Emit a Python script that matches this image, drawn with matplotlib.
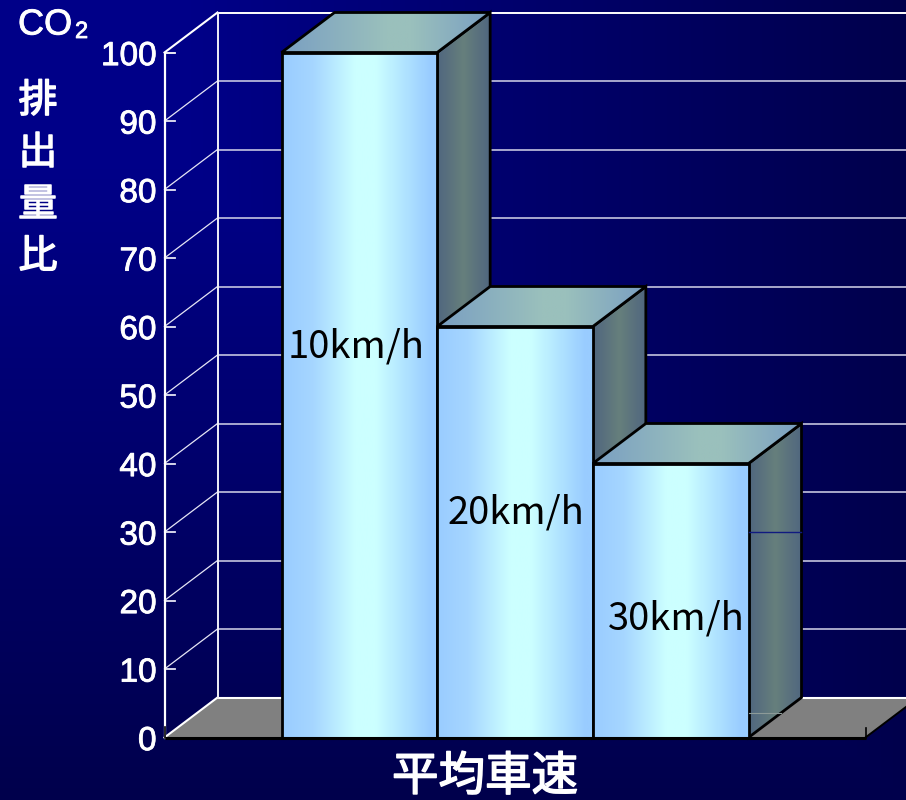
import numpy as np
import matplotlib
matplotlib.use('Agg')
import matplotlib.pyplot as plt
import matplotlib.patheffects as pe
from matplotlib.colors import LinearSegmentedColormap
from matplotlib.patches import Polygon

speed_labels = ['10km/h', '20km/h', '30km/h']
co2_ratio = [100, 60, 40]
y_ticks = [0, 10, 20, 30, 40, 50, 60, 70, 80, 90, 100]
y_kanji = ['排', '出', '量', '比']
x_title = '平均車速'

plt.rcParams['font.family'] = ['Liberation Sans', 'Noto Sans CJK JP']

W, H = 906, 800
fig = plt.figure(figsize=(W / 100, H / 100), dpi=100)
ax = fig.add_axes([0, 0, 1, 1])

# one bar is 155.67 px wide, 10 units are 68.5 px high, value 0 sits just under y=737
sx = 155.67
sy = 6.85
x0 = -281.5 / sx
x1 = (W - 281.5) / sx
y0 = (737.5 - H) / sy
y1 = 737.5 / sy
dx = 53 / sx    # depth of the 3d box
dy = 40 / sy
left = -117 / sx
right = 584 / sx

# background, darker away from the top left corner
px, py = np.meshgrid(np.linspace(0, 1, 300), np.linspace(1, 0, 300))
t = np.maximum(np.maximum(px, py), 0.2)
bg = np.zeros((300, 300, 3))
bg[..., 2] = (152 - 76 * t) / 255
ax.imshow(bg, extent=(x0, x1, y0, y1), aspect='auto', zorder=0, origin='lower')

front_cmap = LinearSegmentedColormap.from_list('front', [(0, '#99ccff'), (0.2, '#a6d6ff'), (0.47, '#ccffff'),
                                                         (0.6, '#ccffff'), (0.95, '#99ccff'), (1, '#99ccff')])
top_cmap = LinearSegmentedColormap.from_list('top', [(0, '#7a9fc2'), (0.5, '#9ac0bc'), (0.62, '#9ac0bc'), (1, '#7a9fc2')])
side_cmap = LinearSegmentedColormap.from_list('side', [(0, '#50667f'), (0.5, '#667f7c'), (1, '#50667f')])
grad = np.linspace(0, 1, 256).reshape(1, -1)
heavy = [pe.withStroke(linewidth=0.6, foreground='white')]
heavy_cjk = [pe.withStroke(linewidth=1.1, foreground='white')]


def shaded(points, cmap, z):
    xs = [p[0] for p in points]
    ys = [p[1] for p in points]
    im = ax.imshow(grad, cmap=cmap, extent=(min(xs), max(xs), min(ys), max(ys)), aspect='auto', zorder=z)
    poly = Polygon(points, closed=True, facecolor='none', edgecolor='black', lw=2.0, zorder=z + 0.1,
                   joinstyle='miter')
    ax.add_patch(poly)
    im.set_clip_path(poly)


# floor
ax.add_patch(Polygon([(left, 0), (right, 0), (right + dx, dy), (left + dx, dy)], closed=True,
                     facecolor='#808080', edgecolor='none', zorder=1))

# walls and grid
for v in y_ticks[1:-1]:
    ax.plot([left, left + dx], [v, v + dy], color='#e6e6f5', lw=0.9, zorder=2)
    ax.plot([left + dx, x1], [v + dy, v + dy], color='#d5d5ea', lw=1.1, zorder=2)
    ax.plot([left, left + 10 / sx], [v, v], color='#e6e6f5', lw=1.3, zorder=2)
ax.plot([left, left + 10 / sx], [100, 100], color='white', lw=1.3, zorder=2)
ax.plot([left, left + dx], [100, 100 + dy], color='white', lw=1.5, zorder=2)
ax.plot([left + dx, x1], [100 + dy, 100 + dy], color='white', lw=1.4, zorder=2)
ax.plot([left, left + dx], [0, dy], color='white', lw=1.5, zorder=2)
ax.plot([left + dx, x1], [dy, dy], color='white', lw=1.5, zorder=2)
ax.plot([left, left], [0, 100], color='white', lw=1.6, zorder=2)
ax.plot([left + dx, left + dx], [dy, 100 + dy], color='#f0f0f8', lw=1.4, zorder=2)

# bars, left one first so the next one covers its side
for i, v in enumerate(co2_ratio):
    z = 3 + i
    shaded([(i + 1, 0), (i + 1 + dx, dy), (i + 1 + dx, v + dy), (i + 1, v)], side_cmap, z)
    shaded([(i, v), (i + 1, v), (i + 1 + dx, v + dy), (i + dx, v + dy)], top_cmap, z + 0.2)
    shaded([(i, 0), (i + 1, 0), (i + 1, v), (i, v)], front_cmap, z + 0.4)

# grid showing through the side of the last bar
ax.plot([3, 3 + dx - 1 / sx], [30, 30], color='#101a80', lw=1, zorder=7)
ax.plot([3, 3 + 0.62 * dx], [3.6, 3.6], color='#8c9a98', lw=0.8, zorder=7)

# base line
ax.plot([left, right], [0, 0], color='black', lw=2.2, zorder=8, solid_capstyle='butt')
ax.plot([right, right], [0, 10 / sy], color='black', lw=1.2, zorder=8)
ax.plot([right, x1], [0, (x1 - right) / dx * dy], color='black', lw=1.4, zorder=8)
ax.plot([left, left], [0, 1.5], color='black', lw=1.2, zorder=8)

# tick labels
for v in y_ticks:
    ax.text(left - 8 / sx, v - 0.6, str(v), color='white', fontsize=24, ha='right', va='center', zorder=9,
            path_effects=heavy)

# bar labels
label_x = [0.482, 1.503, 2.538]
label_y = [57.0, 32.8, 17.3]
for name, lx, ly in zip(speed_labels, label_x, label_y):
    ax.text(lx, ly, name, color='black', fontsize=27.5, ha='center', va='center', zorder=9,
            family=['Noto Sans CJK JP'])

# y axis title
ax.text(18 / sx + x0, (737.5 - 25) / sy, 'CO', color='white', fontsize=26, ha='left', va='center', zorder=9,
        path_effects=heavy)
ax.text(75 / sx + x0, (737.5 - 32) / sy, '2', color='white', fontsize=17, ha='left', va='center', zorder=9,
        path_effects=heavy)
for name, y_px in zip(y_kanji, [101, 153, 205, 257]):
    ax.text(38 / sx + x0, (737.5 - y_px) / sy, name, color='white', fontsize=28, ha='center', va='center',
            zorder=9, family=['Noto Sans CJK JP'], path_effects=heavy_cjk)

ax.text(485 / sx + x0, (737.5 - 777) / sy, x_title, color='white', fontsize=33.5, ha='center', va='center',
        zorder=9, family=['Noto Sans CJK JP'], path_effects=heavy_cjk)

ax.set_xlim(x0, x1)
ax.set_ylim(y0, y1)
ax.axis('off')
fig.savefig('out.png', dpi=100)
plt.close(fig)
